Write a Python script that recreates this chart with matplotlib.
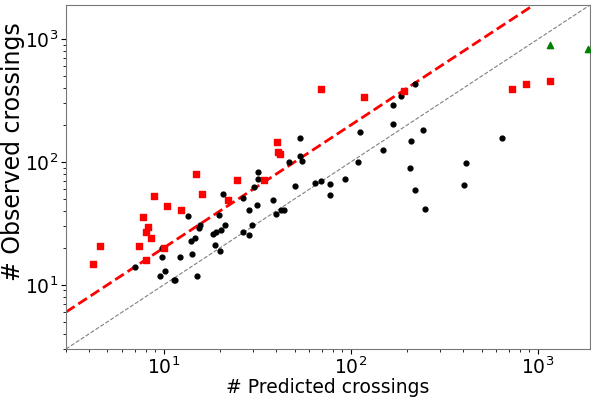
import numpy as np
import matplotlib.pyplot as plt

# black dots (predicted, observed)
black_x = [7.0, 9.8, 9.8, 9.6, 10.2, 11.3, 11.5, 12.2, 13.5, 14.0, 14.6, 14.1, 15.0,
           15.4, 15.7, 18.3, 19.1, 20.2, 21.3, 18.7, 19.9, 19.8, 20.8, 26.6, 28.4,
           26.4, 28.6, 29.7, 30.2, 31.4, 32.0, 32.0, 38.5, 39.9, 42.3, 43.7, 46.5,
           50.2, 53.8, 53.8, 54.5, 64.7, 68.9, 77.8, 77.8, 93.3, 108.7, 111.4,
           148.6, 167.4, 168.8, 186.1, 220.6, 209.5, 242.7, 206, 219, 249, 645,
           414, 402]
black_y = [14.0, 19.9, 17.0, 11.9, 12.9, 10.9, 10.9, 17.0, 36.1, 22.8, 24.0, 17.8, 11.9,
           28.8, 30.6, 25.7, 26.7, 27.7, 30.8, 20.9, 19.0, 36.9, 54.7, 51.4, 40.7,
           26.8, 25.6, 30.8, 63.1, 44.4, 82.4, 73.4, 48.6, 37.7, 40.7, 40.7, 100,
           63.5, 157, 112.8, 101.9, 67.3, 69.8, 66.8, 54.0, 72.9, 100.5, 176,
           124.7, 203.6, 291.6, 347.5, 435, 148.6, 182, 88.9, 58.9, 41.4, 158,
           98, 64.7]

# red squares
red_x = [4.18, 4.58, 7.41, 8.01, 7.76, 8.01, 8.21, 8.59, 8.81, 10.05, 10.4, 12.4,
         14.8, 16.0, 22.0, 24.6, 34.3, 40.2, 40.9, 41.6, 69.5, 118, 192, 729, 867, 1156]
red_y = [14.9, 20.8, 20.8, 15.8, 35.9, 26.7, 29.7, 24.0, 52.6, 19.9, 43.6, 40.4,
         79.8, 54.7, 49.5, 71.1, 70.8, 146.6, 120, 115.6, 396, 336, 377, 392, 430, 453]

# green triangles
green_x = [1159, 1849]
green_y = [898, 828]

lo, hi = 3, 1900

fig = plt.figure(figsize=(5.91, 3.98), dpi=100)
ax = fig.add_axes([66 / 591, 1 - 349 / 398, 524 / 591, 344 / 398])

line = np.array([lo, hi])
ax.plot(line, line, '--', color='gray', linewidth=0.8)
ax.plot(line, 2 * line, '--', color='red', linewidth=2)

ax.scatter(black_x, black_y, s=12, color='black', marker='o', zorder=3)
ax.scatter(red_x, red_y, s=16, color='red', marker='s', zorder=3)
ax.scatter(green_x, green_y, s=20, color='green', marker='^', zorder=3)

ax.set_xscale('log')
ax.set_yscale('log')
ax.set_xlim(lo, hi)
ax.set_ylim(lo, hi)
ax.set_xlabel('# Predicted crossings', fontsize=13.5, labelpad=0)
ax.set_ylabel('# Observed crossings', fontsize=17)
ax.yaxis.set_label_coords(-0.078, 0.575)
ax.tick_params(labelsize=13.5, pad=2)
for s in ax.spines.values():
    s.set_color('#777777')

fig.savefig('out.png', dpi=100)
